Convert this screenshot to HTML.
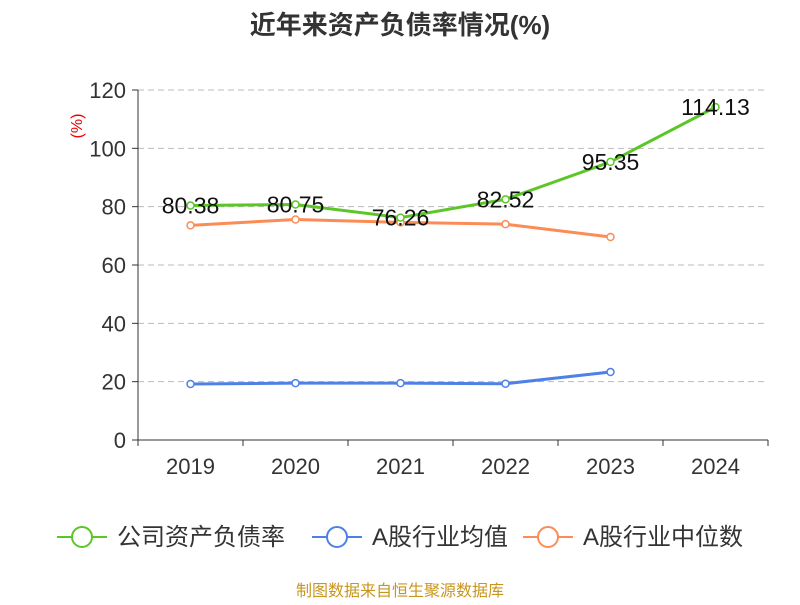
<!DOCTYPE html>
<html><head><meta charset="utf-8">
<style>
body{margin:0;background:#fff;}
svg text{font-family:"Liberation Sans","Noto Sans CJK SC",sans-serif;}
</style></head>
<body>
<svg id="chart" width="800" height="600" xmlns="http://www.w3.org/2000/svg">
<text x="400" y="34" text-anchor="middle" font-size="26" font-weight="bold" fill="#333">近年来资产负债率情况(%)</text>
<text transform="translate(82,126) rotate(-90)" text-anchor="middle" font-size="16" fill="#e00">(%)</text>
<g id="grid"></g>
<g id="axes"></g>
<g id="series"></g>
<g id="legend"></g>
<text x="400" y="596" text-anchor="middle" font-size="16" fill="#c8961e">制图数据来自恒生聚源数据库</text>
</svg>
<script>
const categories=["2019","2020","2021","2022","2023","2024"];
const companyValues=[80.38,80.75,76.26,82.52,95.35,114.13];
const industryAvg=[19.2,19.5,19.5,19.3,23.3];
const industryMedian=[73.6,75.6,74.6,74.0,69.6];
const yTicks=[0,20,40,60,80,100,120];
const seriesNames=["公司资产负债率","A股行业均值","A股行业中位数"];

const NS="http://www.w3.org/2000/svg";
const x0=138,x1=768,y0=440,y1=90,yMax=120;
const band=(x1-x0)/categories.length;
const xs=i=>x0+band*(i+0.5);
const ys=v=>y0-(v/yMax)*(y0-y1);
function mk(tag,attrs,parent){const e=document.createElementNS(NS,tag);for(const k in attrs)e.setAttribute(k,attrs[k]);parent.appendChild(e);return e;}
const grid=document.getElementById('grid'),axes=document.getElementById('axes'),ser=document.getElementById('series'),leg=document.getElementById('legend');

yTicks.forEach(t=>{
  if(t>0){const l=mk('line',{x1:x0,x2:x1,y1:ys(t),y2:ys(t),stroke:'#bbb','stroke-dasharray':'6,4'},grid);
  
  }
  const tk=mk('line',{x1:x0-6,x2:x0,y1:ys(t),y2:ys(t),stroke:'#333'},axes);
  
  
  const tx=mk('text',{x:x0-12,y:ys(t)+8,'text-anchor':'end','font-size':22,fill:'#333'},axes);
  tx.textContent=t;
  
  
});
const ya=mk('line',{x1:x0,x2:x0,y1:y1,y2:y0,stroke:'#333'},axes);


const xa=mk('line',{x1:x0,x2:x1,y1:y0,y2:y0,stroke:'#333'},axes);


for(let i=0;i<=categories.length;i++){
  const t=mk('line',{x1:x0+band*i,x2:x0+band*i,y1:y0,y2:y0+6,stroke:'#333'},axes);
  
  
}
categories.forEach((c,i)=>{
  const t=mk('text',{x:xs(i),y:474,'text-anchor':'middle','font-size':22,fill:'#333'},axes);
  t.textContent=c;
  
  
});

function drawSeries(vals,color,name,labels){
  const g=mk('g',{},ser);
  
  
  const p=mk('polyline',{points:vals.map((v,i)=>xs(i)+','+ys(v)).join(' '),fill:'none',stroke:color,'stroke-width':3},g);
  
  
  vals.forEach((v,i)=>{
    const c=mk('circle',{cx:xs(i),cy:ys(v),r:3.5,fill:'#fff',stroke:color,'stroke-width':1.5},g);
    
    
    if(labels){
      const t=mk('text',{x:xs(i),y:ys(v)+8,'text-anchor':'middle','font-size':23,fill:'#111'},g);
      t.textContent=v.toFixed(2);
      
      
    }
  });
}
drawSeries(industryMedian,'#fb8c56','industry-median-series',false);
drawSeries(industryAvg,'#4e80e6','industry-average-series',false);
drawSeries(companyValues,'#5cc629','company-ratio-series',true);

const legColors=['#5cc629','#4e80e6','#fb8c56'];
const legX=[57,312,523];
seriesNames.forEach((n,i)=>{
  const g=mk('g',{},leg);
  
  
  mk('line',{x1:legX[i],x2:legX[i]+50,y1:537,y2:537,stroke:legColors[i],'stroke-width':2},g);
  mk('circle',{cx:legX[i]+25,cy:537,r:10,fill:'#fff',stroke:legColors[i],'stroke-width':2},g);
  const t=mk('text',{x:legX[i]+60,y:545,'font-size':24,fill:'#333'},g);
  t.textContent=n;
});
</script>
</body></html>
